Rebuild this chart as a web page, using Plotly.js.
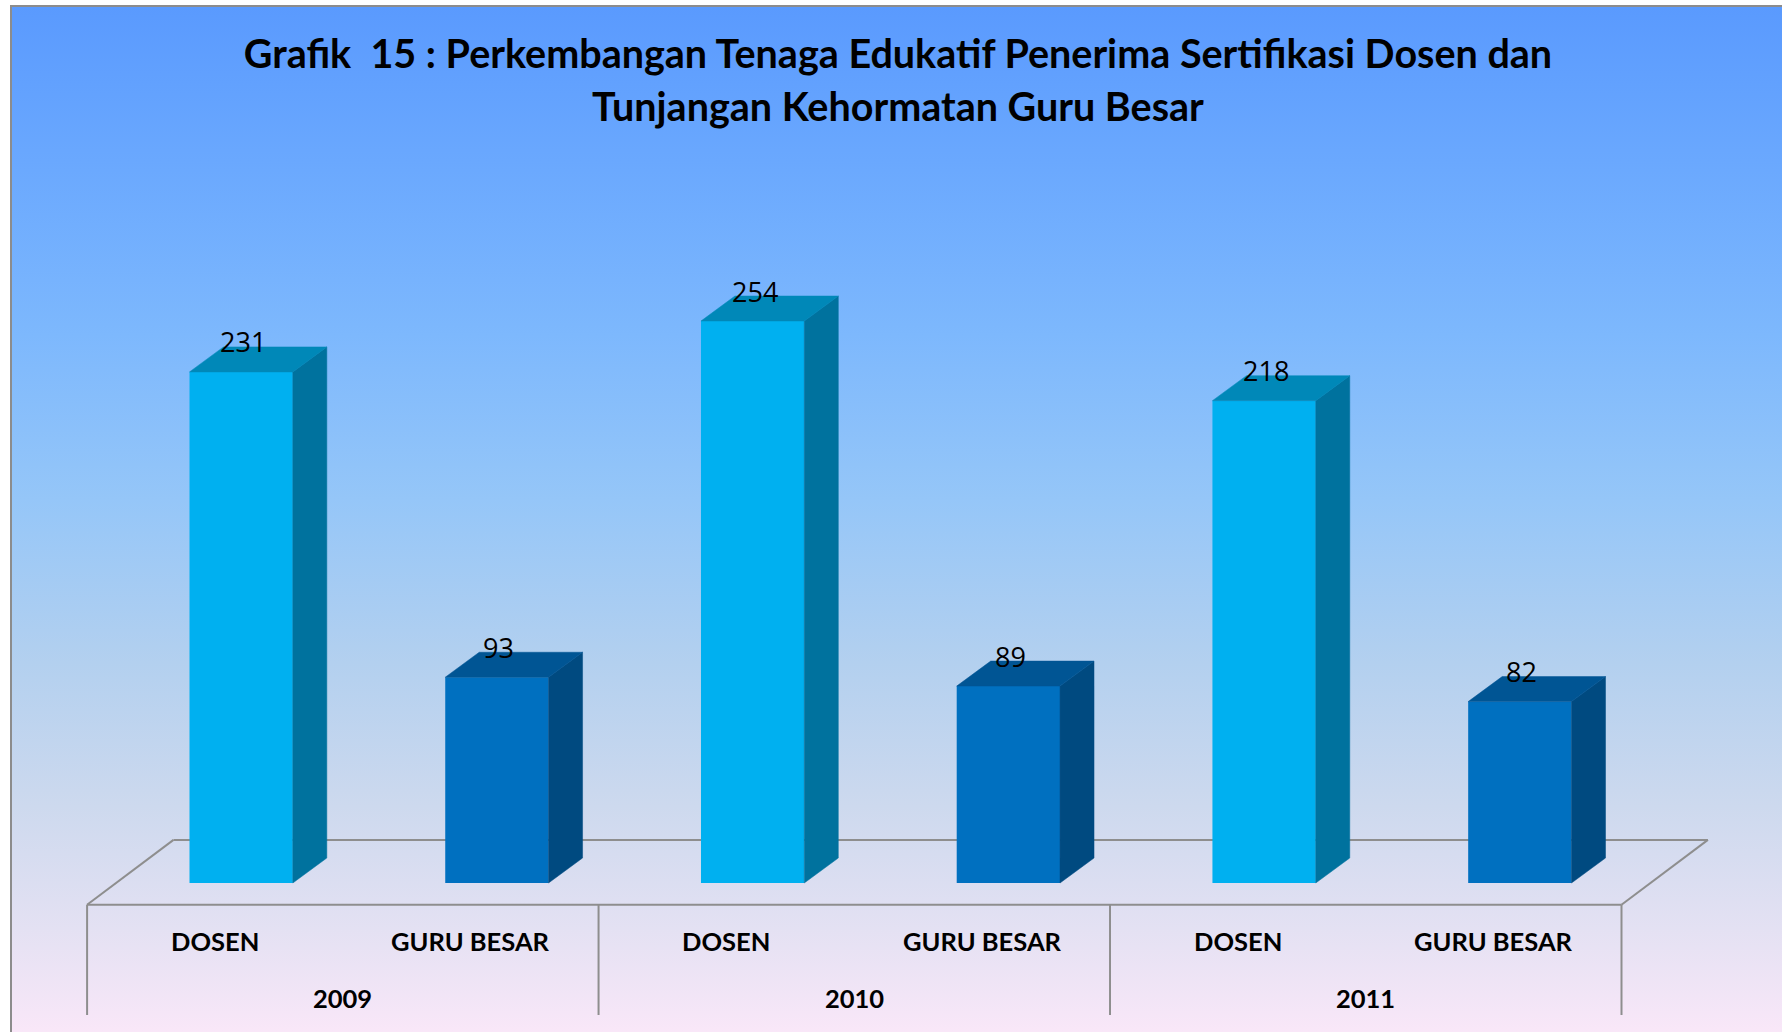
<!DOCTYPE html>
<html><head><meta charset="utf-8">
<script src="https://cdn.plot.ly/plotly-3.0.1.min.js"></script>
<style>
html,body{margin:0;padding:0;width:1782px;height:1032px;overflow:hidden;background:#ffffff;}
#bg{position:absolute;left:10px;top:5px;right:0;bottom:0;border-left:2px solid #8c8c8c;border-top:2px solid #8c8c8c;
background:linear-gradient(to bottom,#5a9afe 0%,#6aa8fe 15%,#7db8fd 32%,#95c6f8 48%,#b3d0ef 64%,#cdd9ee 78%,#e4e1f3 90%,#f9e7f8 100%);}
#chart{position:absolute;left:0;top:0;width:1782px;height:1032px;}
</style></head><body><div id="bg"></div><div id="chart"></div>
<script>
// ---- data ----
const years = ['2009', '2010', '2011'];
const groups = ['DOSEN', 'GURU BESAR'];
const dosen = [231, 254, 218];
const guruBesar = [93, 89, 82];
const titleLine1 = 'Grafik \u00A015 : Perkembangan Tenaga Edukatif Penerima Sertifikasi Dosen dan';
const titleLine2 = 'Tunjangan Kehormatan Guru Besar';

// ---- geometry (pixels -> axis units) ----
const W = 1782, H = 1032, mT = 150, mB = 2;
const nCat = years.length * groups.length;
const kx = 255.7;                       // px per x unit
const firstCenterPx = 241.5;            // px of x = 0
const xRange = [-0.9, nCat - 1 + 0.9];
const mL = firstCenterPx + xRange[0] * kx;
const mR = W - (firstCenterPx + xRange[1] * kx);
const ky = 2.2125;                      // px per y unit
const zeroPx = 883;
const yRange = [-(H - mB - zeroPx) / ky, (zeroPx - mT) / ky];
const ux = px => px / kx, uy = px => px / ky;
const barW = 0.404;
const depthX = ux(34), depthY = uy(25);
const floorShiftX = ux(26.2), floorFrontY = -uy(21.7);
const floorDX = ux(86.4), floorDY = uy(64.8);
const labelBottomY = -uy(1015 - zeroPx);

const colors = {
  'DOSEN': {front: '#00b0f0', side: '#00729e', top: '#0088b8'},
  'GURU BESAR': {front: '#0070c0', side: '#004a80', top: '#005594'}
};

const series = {'DOSEN': dosen, 'GURU BESAR': guruBesar};
const traces = [];
const annotations = [];
const shapes = [];

groups.forEach((g, gi) => {
  const xs = years.map((y, yi) => yi * groups.length + gi);
  const vals = series[g];
  traces.push({type: 'bar', x: xs, y: vals, width: barW, name: g,
    marker: {color: colors[g].front, line: {width: 0}}, hoverinfo: 'skip', showlegend: false});
  xs.forEach((x, k) => {
    const v = vals[k];
    const r = x + barW / 2, l = x - barW / 2;
    // side face
    traces.push({type: 'scatter', mode: 'lines', fill: 'toself', fillcolor: colors[g].side,
      line: {width: 0.5, color: colors[g].side}, hoverinfo: 'skip', showlegend: false,
      x: [r, r + depthX, r + depthX, r, r], y: [0, depthY, v + depthY, v, 0]});
    // top face
    traces.push({type: 'scatter', mode: 'lines', fill: 'toself', fillcolor: colors[g].top,
      line: {width: 0.5, color: colors[g].top}, hoverinfo: 'skip', showlegend: false,
      x: [l, r, r + depthX, l + depthX, l], y: [v, v, v + depthY, v + depthY, v]});
    annotations.push({x: x, y: v, xref: 'x', yref: 'y', text: String(v), showarrow: false,
      xanchor: 'center', yanchor: 'middle', xshift: 2, yshift: 30,
      font: {family: 'Open Sans, sans-serif', size: 27, color: '#000000'}});
    annotations.push({x: x - floorShiftX, y: -uy(941 - zeroPx), xref: 'x', yref: 'y', text: '<b>' + g + '</b>',
      showarrow: false, xanchor: 'center', yanchor: 'middle',
      font: {family: 'Lato, sans-serif', size: 25.5, color: '#000000'}});
  });
});

years.forEach((y, yi) => {
  const c = yi * groups.length + (groups.length - 1) / 2 - floorShiftX;
  annotations.push({x: c, y: -uy(998 - zeroPx), xref: 'x', yref: 'y', text: '<b>' + y + '</b>',
    showarrow: false, xanchor: 'center', yanchor: 'middle',
    font: {family: 'Lato, sans-serif', size: 25.5, color: '#000000'}});
});

// floor & table lines
const fx0 = -0.5 - floorShiftX, fx1 = nCat - 0.5 - floorShiftX;
const lineStyle = {color: '#8e8e8e', width: 2};
const seg = (x0, y0, x1, y1) => shapes.push({type: 'line', xref: 'x', yref: 'y', x0, y0, x1, y1, line: lineStyle, layer: 'below'});
seg(fx0, floorFrontY, fx1, floorFrontY);
seg(fx0 + floorDX, floorFrontY + floorDY, fx1 + floorDX, floorFrontY + floorDY);
seg(fx0, floorFrontY, fx0 + floorDX, floorFrontY + floorDY);
seg(fx1, floorFrontY, fx1 + floorDX, floorFrontY + floorDY);
for (let yi = 0; yi <= years.length; yi++) {
  const xd = fx0 + yi * groups.length;
  seg(xd, floorFrontY, xd, labelBottomY);
}

annotations.push({xref: 'paper', yref: 'paper', x: (898 - mL) / (W - mL - mR), y: (H - mB - 105.7) / (H - mT - mB),
  text: '<b>' + titleLine2 + '</b>', showarrow: false, xanchor: 'center', yanchor: 'middle',
  font: {family: 'Lato, sans-serif', size: 39.5, color: '#000000'}});

const layout = {
  width: W, height: H,
  margin: {l: mL, r: mR, t: mT, b: mB, pad: 0},
  paper_bgcolor: 'rgba(0,0,0,0)', plot_bgcolor: 'rgba(0,0,0,0)',
  title: {text: '<b>' + titleLine1 + '</b>', x: 898 / W, xref: 'container', xanchor: 'center',
    y: 1 - 54.5 / H, yref: 'container', yanchor: 'middle',
    font: {family: 'Lato, sans-serif', size: 39.5, color: '#000000'}},
  barmode: 'overlay',
  showlegend: false,
  xaxis: {range: xRange, visible: false, fixedrange: true},
  yaxis: {range: yRange, visible: false, fixedrange: true},
  shapes: shapes,
  annotations: annotations
};

Plotly.newPlot('chart', traces, layout, {staticPlot: true, displayModeBar: false});
</script></body></html>
